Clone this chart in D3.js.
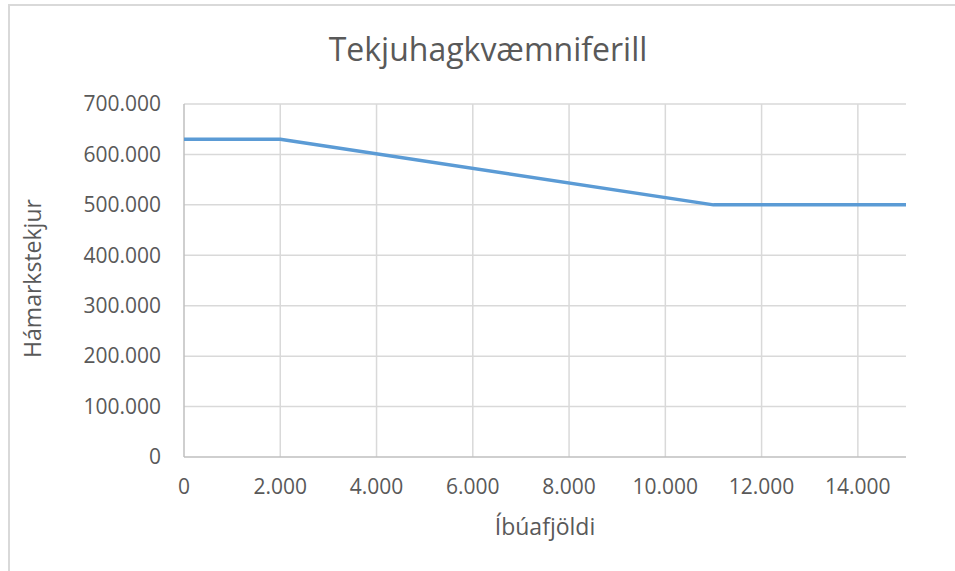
<!DOCTYPE html>
<html>
<head>
<meta charset="utf-8">
<script src="https://cdn.jsdelivr.net/npm/d3@7"></script>
<style>
  body { margin: 0; background: #fff; }
  text { font-family: "Open Sans", sans-serif; fill: #595959; }
</style>
</head>
<body>
<div id="chart"></div>
<script>
const residents = [0, 2000, 11000, 15000];
const maxRevenue = [630000, 630000, 500000, 500000];
const xTicks = [0, 2000, 4000, 6000, 8000, 10000, 12000, 14000];
const yTicks = [0, 100000, 200000, 300000, 400000, 500000, 600000, 700000];

const title = 'Tekjuhagkvæmniferill';
const xTitle = 'Íbúafjöldi';
const yTitle = 'Hámarkstekjur';

const width = 955, height = 571;
const margin = { top: 104, right: 49, bottom: 114, left: 184 };
const innerW = width - margin.left - margin.right;
const innerH = height - margin.top - margin.bottom;

const svg = d3.select('#chart')
    .append('svg')
    .attr('width', width)
    .attr('height', height);

// chart frame
svg.append('rect')
    .attr('x', 9).attr('y', 5)
    .attr('width', 960).attr('height', 580)
    .attr('fill', 'none')
    .attr('stroke', '#d9d9d9')
    .attr('stroke-width', 2);

const g = svg.append('g')
    .attr('transform', `translate(${margin.left},${margin.top})`);

const x = d3.scaleLinear().domain([0, 15000]).range([0, innerW]);
const y = d3.scaleLinear().domain([0, 700000]).range([innerH, 0]);

const fmt = d => d3.format(',')(d).replace(/,/g, '.');

// gridlines
g.selectAll('.hgrid')
    .data(yTicks.filter(d => d > 0))
    .join('line')
    .attr('x1', 0).attr('x2', innerW)
    .attr('y1', d => y(d)).attr('y2', d => y(d))
    .attr('stroke', '#d9d9d9').attr('stroke-width', 1.5);

g.selectAll('.vgrid')
    .data(xTicks.filter(d => d > 0))
    .join('line')
    .attr('x1', d => x(d)).attr('x2', d => x(d))
    .attr('y1', 0).attr('y2', innerH)
    .attr('stroke', '#d9d9d9').attr('stroke-width', 1.5);

// axis lines
g.append('line')
    .attr('x1', 0).attr('x2', 0).attr('y1', 0).attr('y2', innerH)
    .attr('stroke', '#bfbfbf').attr('stroke-width', 1.5);
g.append('line')
    .attr('x1', 0).attr('x2', innerW).attr('y1', innerH).attr('y2', innerH)
    .attr('stroke', '#bfbfbf').attr('stroke-width', 1.5);

// tick labels
g.selectAll('.ylab')
    .data(yTicks)
    .join('text')
    .attr('x', -23)
    .attr('y', d => y(d))
    .attr('dy', '0.35em')
    .attr('text-anchor', 'end')
    .attr('font-size', 21)
    .text(fmt);

g.selectAll('.xlab')
    .data(xTicks)
    .join('text')
    .attr('x', d => x(d))
    .attr('y', innerH + 30)
    .attr('dy', '0.35em')
    .attr('text-anchor', 'middle')
    .attr('font-size', 21)
    .text(fmt);

// the line
const line = d3.line()
    .x((d, i) => x(residents[i]))
    .y(d => y(d));

g.append('path')
    .datum(maxRevenue)
    .attr('d', line)
    .attr('fill', 'none')
    .attr('stroke', '#5b9bd5')
    .attr('stroke-width', 3.5)
    .attr('stroke-linejoin', 'round');

// titles
svg.append('text')
    .attr('x', 488).attr('y', 50)
    .attr('dy', '0.35em')
    .attr('text-anchor', 'middle')
    .attr('font-size', 32)
    .text(title);

svg.append('text')
    .attr('x', margin.left + innerW / 2).attr('y', 527)
    .attr('dy', '0.35em')
    .attr('text-anchor', 'middle')
    .attr('font-size', 23)
    .text(xTitle);

svg.append('text')
    .attr('transform', `translate(33,${margin.top + innerH / 2 - 2}) rotate(-90)`)
    .attr('dy', '0.35em')
    .attr('text-anchor', 'middle')
    .attr('font-size', 23)
    .text(yTitle);
</script>
</body>
</html>
